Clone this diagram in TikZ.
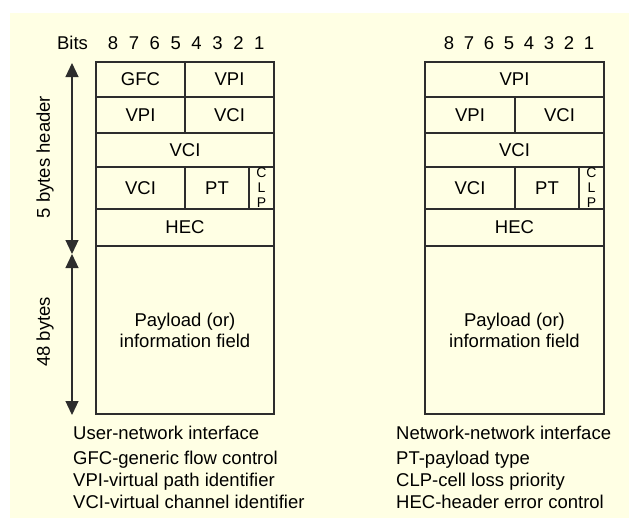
\documentclass[tikz,border=0pt]{standalone}
\usepackage{fontspec}
\setmainfont{Liberation Sans}
\usetikzlibrary{arrows.meta}

\definecolor{paper}{RGB}{255,255,228}
\definecolor{ink}{RGB}{45,45,45}

\begin{document}
\begin{tikzpicture}[x=1pt, y=-1pt, font=\fontsize{18.5}{21}\selectfont,
    cell/.style={draw=ink, line width=1.2pt, anchor=north west, inner sep=0pt, outer sep=0pt, align=center},
    clp/.style={cell, font=\fontsize{14}{15}\selectfont},
    note/.style={anchor=base west, inner sep=0pt},
    span/.style={draw=ink, line width=1.2pt, {Triangle[length=14pt,width=13pt]}-{Triangle[length=14pt,width=13pt]}}]
   \useasboundingbox (0,0) rectangle (629,525);

   % draw background
   \fill[paper] (10,13) rectangle (629,518);

   % draw bit numbers
   \node (bits) at (72.5,43) {Bits};
   \foreach \b [count=\i from 0] in {8,7,6,5,4,3,2,1}
     \node (lb\b) at (113+20.9*\i,43) {\b};
   \foreach \b [count=\i from 0] in {8,7,6,5,4,3,2,1}
     \node (rb\b) at (449+20*\i,43) {\b};

   % draw user-network cell
   \node[cell, minimum width=89pt, minimum height=35pt] (lgfc) at (96,62) {GFC};
   \node[cell, minimum width=89pt, minimum height=35pt] (lvpia) at (185,62) {VPI};
   \node[cell, minimum width=89pt, minimum height=36pt] (lvpib) at (96,97) {VPI};
   \node[cell, minimum width=89pt, minimum height=36pt] (lvcia) at (185,97) {VCI};
   \node[cell, minimum width=178pt, minimum height=34pt] (lvcib) at (96,133) {VCI};
   \node[cell, minimum width=89pt, minimum height=42pt] (lvcic) at (96,167) {VCI};
   \node[cell, minimum width=64pt, minimum height=42pt] (lpt) at (185,167) {PT};
   \node[clp, minimum width=25pt, minimum height=42pt] (lclp) at (249,167) {C\\L\\P};
   \node[cell, minimum width=178pt, minimum height=37pt] (lhec) at (96,209) {HEC};
   \node[cell, minimum width=178pt, minimum height=168pt] (lpay) at (96,246) {Payload (or)\\information field};

   % draw network-network cell
   \node[cell, minimum width=179pt, minimum height=35pt] (rvpia) at (425,62) {VPI};
   \node[cell, minimum width=90pt, minimum height=36pt] (rvpib) at (425,97) {VPI};
   \node[cell, minimum width=89pt, minimum height=36pt] (rvcia) at (515,97) {VCI};
   \node[cell, minimum width=179pt, minimum height=34pt] (rvcib) at (425,133) {VCI};
   \node[cell, minimum width=90pt, minimum height=42pt] (rvcic) at (425,167) {VCI};
   \node[cell, minimum width=64pt, minimum height=42pt] (rpt) at (515,167) {PT};
   \node[clp, minimum width=25pt, minimum height=42pt] (rclp) at (579,167) {C\\L\\P};
   \node[cell, minimum width=179pt, minimum height=37pt] (rhec) at (425,209) {HEC};
   \node[cell, minimum width=179pt, minimum height=168pt] (rpay) at (425,246) {Payload (or)\\information field};

   % draw size arrows
   \coordinate (htop) at (72,63);
   \coordinate (hbot) at (72,254);
   \coordinate (pbot) at (72,415);
   \draw[span] (htop) -- (hbot);
   \draw[span] (hbot) -- (pbot);
   \node[rotate=90] (hdlbl) at (45,157) {5 bytes header};
   \node[rotate=90] (pllbl) at (45,332) {48 bytes};

   % draw notes
   \node[note] (uni) at (73,439) {User-network interface};
   \node[note] (gfcn) at (73,464) {GFC-generic flow control};
   \node[note] (vpin) at (73,486) {VPI-virtual path identifier};
   \node[note] (vcin) at (73,508) {VCI-virtual channel identifier};
   \node[note] (nni) at (396,439) {Network-network interface};
   \node[note] (ptn) at (396,464) {PT-payload type};
   \node[note] (clpn) at (396,486) {CLP-cell loss priority};
   \node[note] (hecn) at (396,508) {HEC-header error control};
\end{tikzpicture}
\end{document}
